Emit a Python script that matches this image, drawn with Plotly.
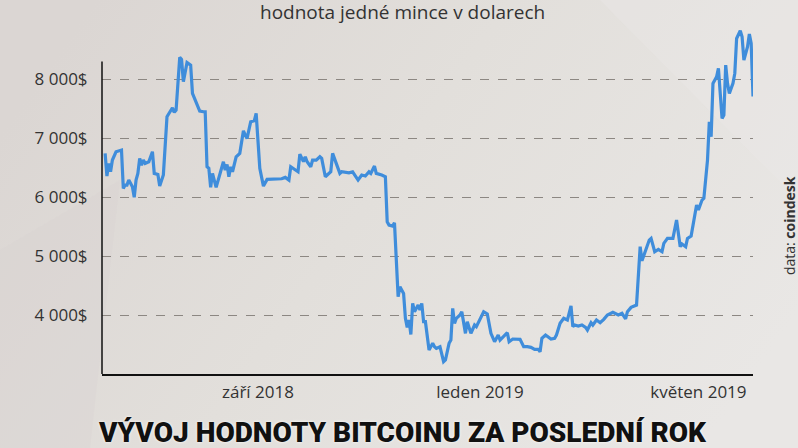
import base64
import pandas as pd
import plotly.graph_objects as go

# days since 2018-06-08
day_offsets = [
    1, 2, 3, 4, 5, 7, 10, 11, 12, 13, 14, 16, 17, 18, 19, 20, 21, 22, 23, 25,
    27, 28, 30, 31, 33, 35, 38, 39, 40, 42, 43, 44, 46, 48, 49, 51, 53, 55, 56, 57,
    58, 59, 60, 62, 64, 66, 67, 68, 69, 70, 71, 73, 75, 77, 78, 79, 81, 83, 84, 86,
    87, 88, 90, 98, 100, 102, 103, 107, 108, 110, 111, 112, 114, 115, 117, 119, 120, 122, 125, 126,
    129, 130, 131, 135, 137, 140, 142, 144, 146, 147, 149, 150, 153, 155, 156, 157, 159, 160, 162, 163,
    165, 166, 167, 168, 169, 170, 171, 173, 174, 175, 176, 177, 179, 181, 182, 183, 185, 187, 188, 190,
    191, 192, 193, 194, 196, 197, 199, 200, 202, 204, 205, 207, 209, 211, 213, 215, 217, 218, 220, 222,
    223, 225, 229, 231, 233, 235, 237, 239, 240, 241, 243, 244, 246, 248, 249, 251, 253, 255, 256, 257,
    258, 259, 261, 263, 265, 266, 268, 269, 271, 273, 275, 277, 280, 283, 285, 287, 288, 289, 290, 293,
    295, 296, 298, 300, 301, 303, 305, 307, 308, 310, 313, 315, 317, 318, 320, 321, 323, 326, 327, 329,
    330, 332, 333, 334, 335, 337, 338, 339, 340, 341, 342, 343, 344, 346, 347, 348, 350, 351, 352, 354,
    355, 356, 357,
]
price_usd = [
    6741, 6356, 6571, 6430, 6627, 6768, 6797, 6147, 6203, 6203, 6288, 6175, 5995, 6288, 6401, 6655, 6542, 6627, 6571, 6599,
    6768, 6401, 6384, 6186, 6373, 7362, 7514, 7436, 7475, 8368, 8333, 7955, 8282, 8237, 7757, 7588, 7458, 7446, 7446, 6514,
    6486, 6164, 6401, 6164, 6401, 6599, 6458, 6554, 6345, 6514, 6429, 6683, 6741, 7124, 7051, 6995, 7277, 7294, 7419, 6486,
    6333, 6186, 6299, 6310, 6333, 6288, 6514, 6429, 6725, 6600, 6680, 6599, 6514, 6627, 6627, 6683, 6655, 6345, 6429, 6741,
    6486, 6401, 6429, 6412, 6429, 6288, 6373, 6356, 6429, 6401, 6525, 6401, 6373, 6345, 5581, 5525, 5508, 5565, 4311, 4480,
    4367, 3944, 3790, 3915, 3670, 4198, 4056, 4169, 4085, 4198, 3887, 3887, 3407, 3520, 3463, 3435, 3463, 3209, 3237, 3520,
    3576, 4113, 3859, 3944, 4000, 4056, 3689, 3887, 3689, 3831, 3802, 3915, 4056, 4017, 3689, 3548, 3661, 3576, 3633, 3700,
    3548, 3593, 3588, 3463, 3463, 3452, 3418, 3418, 3378, 3605, 3661, 3633, 3593, 3605, 3661, 3859, 3944, 3915, 4028, 4153,
    3802, 3831, 3814, 3831, 3791, 3746, 3870, 3831, 3915, 3870, 3927, 4000, 4046, 4000, 4028, 3935, 4056, 4085, 4130, 4169,
    5158, 4921, 5102, 5271, 5299, 5073, 5113, 5073, 5215, 5299, 5299, 5610, 5158, 5203, 5158, 5299, 5339, 5864, 5780, 5949,
    5978, 6627, 7277, 7023, 7927, 8040, 8181, 7757, 7333, 7390, 8237, 7927, 7757, 7927, 8096, 8689, 8819, 8718, 8322, 8548,
    8763, 8605, 7706,
]
start_date = "2018-06-08"
tick_dates = ["2018-09-01", "2019-01-01", "2019-05-01"]
tick_labels = ["září 2018", "leden 2019", "květen 2019"]
y_ticks = [4000, 5000, 6000, 7000, 8000]
y_tick_labels = ["4 000$", "5 000$", "6 000$", "7 000$", "8 000$"]

base = pd.Timestamp(start_date)
dates = [base + pd.Timedelta(days=d) for d in day_offsets]

FONT = "Open Sans"
TXT = "#333333"

# soft background gradient (decoration only)
svg = (
    '<svg xmlns="http://www.w3.org/2000/svg" width="798" height="448">'
    '<defs><linearGradient id="g" x1="0" y1="0.3" x2="1" y2="0.7">'
    '<stop offset="0" stop-color="#dbd6d3"/>'
    '<stop offset="0.45" stop-color="#e2dfdb"/>'
    '<stop offset="1" stop-color="#e9e7e5"/>'
    '</linearGradient></defs>'
    '<rect width="798" height="448" fill="url(#g)"/>'
    '<polygon points="0,250 120,180 90,448 0,448" fill="#d8d2cf" opacity="0.3"/>'
    '<polygon points="600,0 798,0 798,200" fill="#ebe9e7" opacity="0.35"/>'
    '</svg>'
)
bg_uri = "data:image/svg+xml;base64," + base64.b64encode(svg.encode()).decode()

fig = go.Figure()
fig.add_trace(go.Scatter(
    x=dates, y=price_usd, mode="lines",
    line=dict(color="#3f8ddb", width=3.2),
    hoverinfo="skip", showlegend=False,
))

fig.update_layout(
    width=798, height=448,
    margin=dict(l=102, r=45, t=26, b=74),
    paper_bgcolor="#e2dfdb",
    plot_bgcolor="rgba(0,0,0,0)",
    font=dict(family=FONT, color=TXT, size=17),
    images=[dict(source=bg_uri, xref="paper", yref="paper",
                 x=-102 / 651, y=1 + 26 / 348, sizex=798 / 651, sizey=448 / 348,
                 xanchor="left", yanchor="top", sizing="stretch", layer="below")],
    xaxis=dict(
        range=[base - pd.Timedelta(hours=17), base + pd.Timedelta(days=357)],
        tickvals=[pd.Timestamp(t) for t in tick_dates],
        ticktext=tick_labels,
        showgrid=False, zeroline=False,
        showline=True, linecolor="#111111", linewidth=1.5,
        ticks="outside", ticklen=2, tickcolor="rgba(0,0,0,0)",
        tickfont=dict(family=FONT, size=17, color=TXT),
    ),
    yaxis=dict(
        range=[3000, 8900],
        tickvals=y_ticks, ticktext=y_tick_labels,
        showgrid=True, gridcolor="#8c8782", gridwidth=1, griddash="dash",
        zeroline=False, showline=False,
        ticks="outside", ticklen=10, tickcolor="rgba(0,0,0,0)",
        tickfont=dict(family=FONT, size=17, color=TXT),
    ),
    shapes=[dict(
        type="line", xref="paper", yref="y",
        x0=0, x1=0, y0=3000, y1=8300,
        line=dict(color="#111111", width=1.5),
    )],
    annotations=[
        dict(text="hodnota jedné mince v dolarech", xref="paper", yref="paper",
             x=0.4616, y=1, yshift=14, xanchor="center", yanchor="middle",
             showarrow=False, font=dict(family=FONT, size=19, color=TXT)),
        dict(text="VÝVOJ HODNOTY BITCOINU ZA POSLEDNÍ ROK", xref="paper", yref="paper",
             x=0.4616, y=0, yshift=-58, xanchor="center", yanchor="middle",
             showarrow=False,
             font=dict(family="Roboto", size=28, color="#111111", weight=900,
                       shadow="0px 0px 3px #ffffff")),
        dict(text="data: <b>coindesk</b>", xref="paper", yref="paper",
             x=1, xshift=36, y=0.425, xanchor="center", yanchor="middle",
             textangle=-90, showarrow=False,
             font=dict(family=FONT, size=14, color=TXT)),
    ],
)

fig.write_html(
    "out.html",
    config={"displayModeBar": False},
    post_script="document.body.style.margin='0';document.body.style.padding='0';",
)
